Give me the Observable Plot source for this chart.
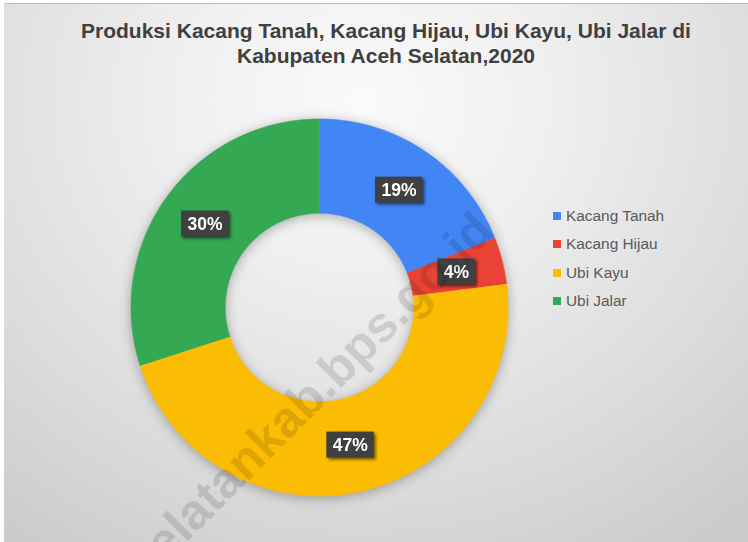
<!DOCTYPE html>
<html>
<head>
<meta charset="utf-8">
<script src="https://cdn.jsdelivr.net/npm/d3@7"></script>
<script src="https://cdn.jsdelivr.net/npm/@observablehq/plot@0.6"></script>
<style>
  html, body { margin: 0; padding: 0; background: #fff; }
  #page { position: relative; width: 748px; height: 542px; overflow: hidden; background: #fff; font-family: "Liberation Sans", Arial, sans-serif; }
  #card { position: absolute; left: 4px; top: 3px; right: 0; bottom: 0; border-top: 1px solid #bdbdbd;
    background: radial-gradient(ellipse 80% 100% at 48% 18%, #fafafa 0%, #f0f0f0 30%, #dcdcdc 70%, #cbcbcb 100%); }
  #title { position: absolute; left: 0; top: 18px; width: 772px; text-align: center; font-weight: bold; font-size: 21px; line-height: 25px; color: #404040; }
  #chart { position: absolute; left: 0; top: 80px; }
  #legend { position: absolute; left: 553px; top: 202px; }
  .lg { height: 28.3px; display: flex; align-items: center; font-size: 15.4px; color: #595959; }
  .lg span.sw { width: 8px; height: 8px; margin-right: 5px; display: inline-block; }
  #wm { position: absolute; left: 309px; top: 396px; width: 0; height: 0; pointer-events: none; }
  #wm div { position: absolute; left: -320px; top: -30px; width: 640px; height: 60px; line-height: 60px; text-align: center;
    font-weight: bold; font-size: 50px; color: rgba(0,0,0,0.12); transform: rotate(-45deg); white-space: nowrap; }
</style>
</head>
<body>
<div id="page">
  <div id="card"></div>
  <div id="title"></div>
  <div id="chart"></div>
  <div id="legend"></div>
  <div id="wm"><div>selatankab.bps.go.id</div></div>
</div>
<script>
const titleLines = ["Produksi Kacang Tanah, Kacang Hijau, Ubi Kayu, Ubi Jalar di", "Kabupaten Aceh Selatan,2020"];
const categories = ["Kacang Tanah", "Kacang Hijau", "Ubi Kayu", "Ubi Jalar"];
const percents = [19, 4, 47, 30];
const colors = ["#4285F4", "#EA4335", "#FBBC04", "#34A853"];

document.getElementById("title").innerHTML = titleLines.join("<br>");
const lg = document.getElementById("legend");
categories.forEach((c, i) => {
  const d = document.createElement("div");
  d.className = "lg";
  d.innerHTML = `<span class="sw" style="background:${colors[i]}"></span>${c}`;
  lg.appendChild(d);
});

// Donut geometry in unit coordinates (outer radius 1, inner 0.5)
const inner = 0.5, outer = 1;
const total = d3.sum(percents);
const pie = d3.pie().sort(null).value(d => d)(percents);
const ringPts = [];
const labels = [];
pie.forEach((p, i) => {
  const a0 = p.startAngle, a1 = p.endAngle;
  const n = Math.max(2, Math.ceil((a1 - a0) / (Math.PI / 360)));
  for (let k = 0; k <= n; k++) { const a = a0 + (a1 - a0) * k / n; ringPts.push({key: categories[i], x: outer * Math.sin(a), y: outer * Math.cos(a)}); }
  for (let k = n; k >= 0; k--) { const a = a0 + (a1 - a0) * k / n; ringPts.push({key: categories[i], x: inner * Math.sin(a), y: inner * Math.cos(a)}); }
  const am = (a0 + a1) / 2, rm = (inner + outer) / 2;
  labels.push({key: categories[i], x: rm * Math.sin(am), y: rm * Math.cos(am), text: Math.round(percents[i] / total * 100) + "%"});
});

const cx = 319, cy = 227, R = 188.5;
const chart = Plot.plot({
  width: 748,
  height: 462,
  style: {background: "transparent", overflow: "visible"},
  x: {domain: [-1, 1], range: [cx - R, cx + R], axis: null},
  y: {domain: [-1, 1], range: [cy + R, cy - R], axis: null},
  color: {domain: categories, range: colors},
  marks: [
    Plot.line(ringPts, {x: "x", y: "y", z: "key", fill: "key", stroke: "key", strokeWidth: 0.6}),
    Plot.text(labels, {x: "x", y: "y", text: "text", fill: "white", fontWeight: "bold", fontSize: 17.5, fontFamily: "Liberation Sans, Arial, sans-serif"})
  ]
});
document.getElementById("chart").appendChild(chart);

// shadows (CSS filters) & label boxes
const ns = "http://www.w3.org/2000/svg";
const ringG = chart.querySelector('g[aria-label="line"]');
if (ringG) ringG.setAttribute("style", "filter: drop-shadow(0px 2px 6px rgba(0,0,0,0.3))");
const pctG = chart.querySelector('g[aria-label="text"]');
if (pctG) {
  const boxes = document.createElementNS(ns, "g");
  boxes.setAttribute("style", "filter: drop-shadow(2px 2.5px 1.5px rgba(0,0,0,0.55))");
  pctG.querySelectorAll("text").forEach(t => {
    const b = t.getBBox();
    const r = document.createElementNS(ns, "rect");
    r.setAttribute("x", b.x - 6);
    r.setAttribute("y", b.y + b.height / 2 - 13);
    r.setAttribute("width", b.width + 12);
    r.setAttribute("height", 26);
    r.setAttribute("fill", "#404040");
    const tr = t.getAttribute("transform");
    if (tr) r.setAttribute("transform", tr);
    boxes.appendChild(r);
  });
  pctG.parentNode.insertBefore(boxes, pctG);
}
</script>
</body>
</html>
